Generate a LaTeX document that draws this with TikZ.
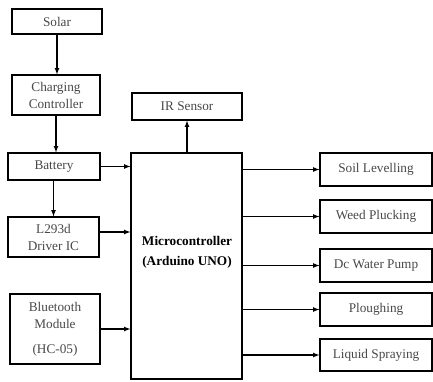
\documentclass[tikz,border=0pt]{standalone}
\usepackage{fontspec}
\setmainfont{Liberation Serif}
\usetikzlibrary{calc}
\usetikzlibrary{arrows}

\tikzset{
    block/.style={draw, line width=1.2bp, inner sep=0pt, align=center,
        text=black!72, font=\fontsize{13.3}{17}\selectfont},
    link/.style={line width=1.2bp, -latex}
}

\begin{document}
\begin{tikzpicture}[x=1bp, y=-1bp]
    \useasboundingbox (0,0) rectangle (433,381);

    \node [block, minimum width=90bp, minimum height=25bp] (solar) at (57,21.5) {Solar};
    \node [block, minimum width=88bp, minimum height=40bp] (chg) at (56,95) {Charging\\Controller};
    \node [block, minimum width=92bp, minimum height=27bp] (bat) at (54,166.5) {Battery};
    \node [block, minimum width=91bp, minimum height=40bp] (drv) at (53.5,237) {L293d\\Driver IC};
    \node [block, minimum width=90bp, minimum height=70bp] (bt) at (55,329) {Bluetooth\\Module\\[8bp](HC-05)};
    \node [block, minimum width=110bp, minimum height=27bp] (ir) at (187,106.5) {IR Sensor};

    \node [block, minimum width=111bp, minimum height=226bp] (mcu) at (186.5,266) {};
    \node [align=center, font=\fontsize{13.3}{20}\selectfont\bfseries] (mcutxt) at (187,252) {Microcontroller\\(Arduino UNO)};

    \node [block, minimum width=112bp, minimum height=33bp] (soil) at (376,169.5) {Soil Levelling};
    \node [block, minimum width=112bp, minimum height=33bp] (weed) at (376,216.5) {Weed Plucking};
    \node [block, minimum width=112bp, minimum height=33bp] (pump) at (376,265.5) {Dc Water Pump};
    \node [block, minimum width=112bp, minimum height=33bp] (plough) at (376,309.5) {Ploughing};
    \node [block, minimum width=112bp, minimum height=32bp] (spray) at (376,355) {Liquid Spraying};

    % power chain
    \draw[link] (solar.south) -- (solar.south |- chg.north);
    \draw[link] (chg.south) -- (chg.south |- bat.north);
    \draw[link] (drv.north |- bat.south) -- (drv.north);

    % inputs
    \draw[link] (bat.east) -- (bat.east -| mcu.west);
    \draw[link] ($(drv.east)+(0,-5)$) -- ($(drv.east -| mcu.west)+(0,-5)$);
    \draw[link] (bt.east) -- (bt.east -| mcu.west);
    \draw[link] (ir.south |- mcu.north) -- (ir.south);

    % outputs
    \foreach \out in {soil, weed, pump, plough, spray}
        \draw[link] (mcu.east |- \out.west) -- (\out.west);
\end{tikzpicture}
\end{document}
